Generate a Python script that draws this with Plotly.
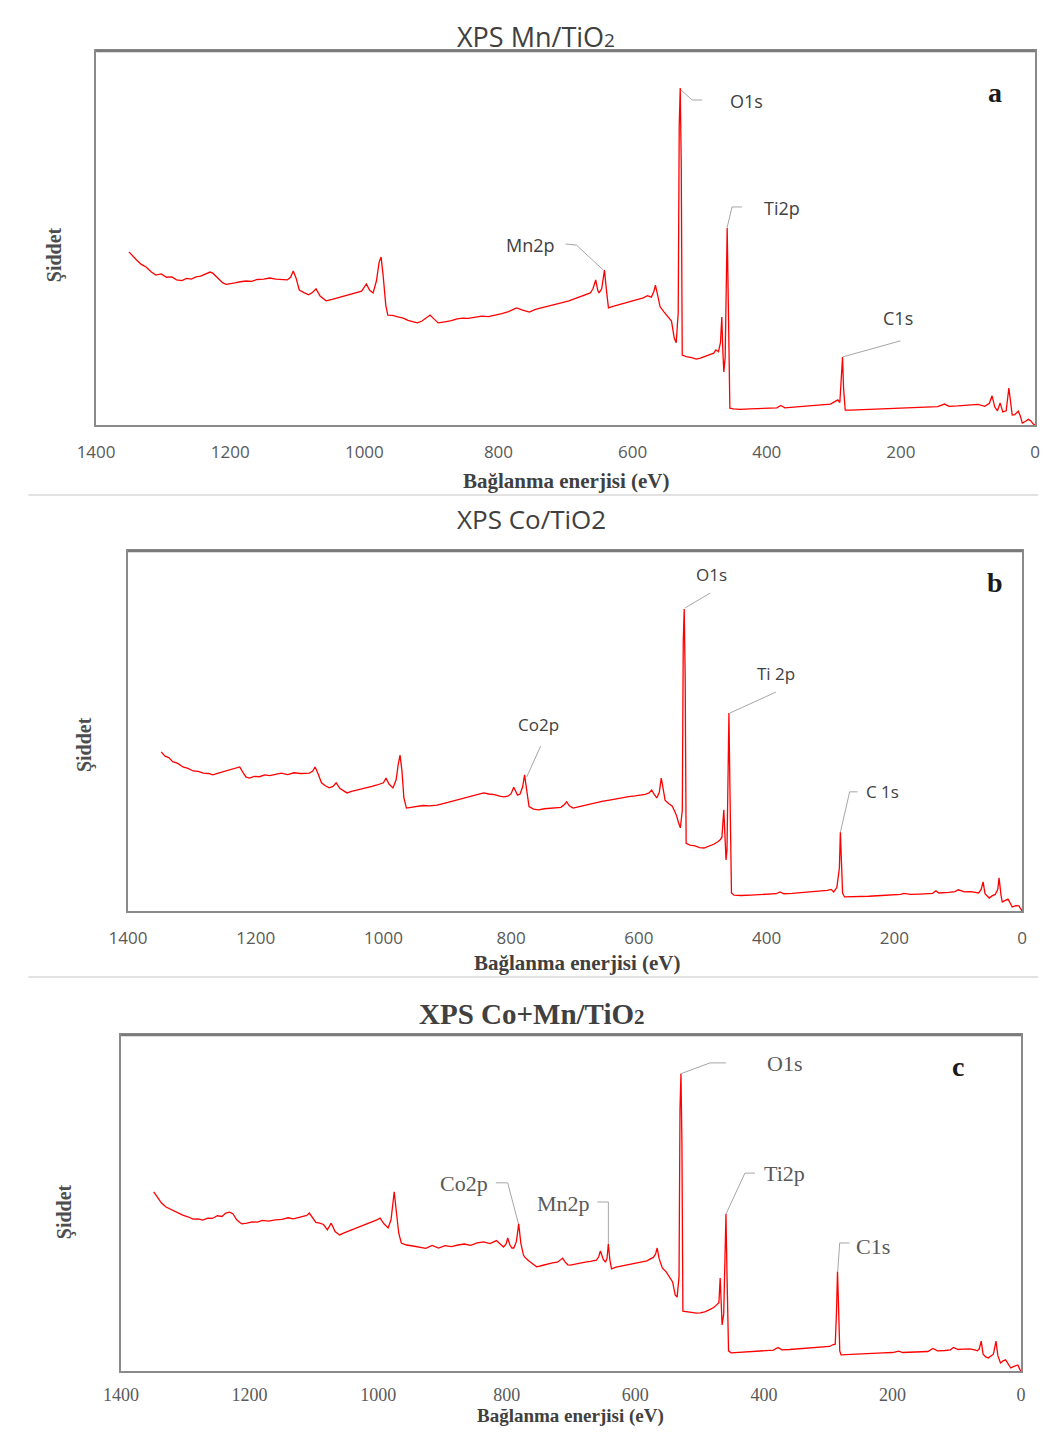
import plotly.graph_objects as go

# The page is opened in a 1051x1438 window with the default 8px body margin.
OFF = 8
W, H = 1035, 1422
# measured mapping from figure pixels to picture pixels (horizontal)
SX, BX = 0.98, 24.7

# ---------------- data: panel a (Mn/TiO2) ----------------
energy_a = [
    1351, 1345, 1340, 1333, 1325, 1318, 1311, 1303, 1295, 1287,
    1280, 1272, 1265, 1258, 1251, 1244, 1237, 1230, 1226, 1220,
    1215, 1211, 1206, 1201, 1193, 1185, 1176, 1168, 1160, 1150,
    1141, 1132, 1122, 1115, 1110, 1106, 1102, 1097, 1090, 1083,
    1077, 1072, 1066, 1057, 1048, 1040, 1030, 1020, 1012, 1004,
    997, 992, 987, 982, 978, 975, 972, 968, 965, 958,
    950, 942, 935, 928, 921, 914, 907, 902, 897, 890,
    880, 870, 862, 853, 845, 835, 825, 815, 803, 795,
    785, 778, 773, 765, 758, 754, 745, 735, 725, 715,
    705, 695, 685, 675, 667, 663, 659, 655, 652, 650,
    646, 642, 639, 636, 628, 620, 612, 604, 596, 590,
    584, 578, 572, 568, 566, 563, 559, 553, 547, 542,
    538, 535, 532, 530.5, 529, 527.5, 526, 520, 512, 505,
    499, 492, 485, 479, 476, 472, 469, 467, 465.5, 464,
    462, 460.5, 459, 457.5, 455, 450, 440, 425, 410, 395,
    385, 379, 373, 360, 345, 330, 315, 305, 298, 294,
    291, 288.5, 287, 285.5, 283, 275, 260, 240, 220, 200,
    180, 160, 145, 135, 128, 115, 100, 85, 75, 68,
    64, 60, 56, 52, 48, 43, 39, 36, 34, 30,
    25, 22, 19, 14, 10, 6, 3, 0]
intensity_a = [
    46.3, 45.0, 44.2, 43.0, 42.2, 41.0, 40.1, 40.4, 39.5, 39.6,
    38.8, 38.6, 39.2, 39.0, 39.6, 39.8, 40.3, 40.9, 40.6, 39.6,
    38.6, 38.0, 37.6, 37.7, 38.0, 38.3, 38.5, 38.4, 38.9, 39.0,
    39.3, 39.0, 39.0, 38.8, 39.5, 41.2, 39.4, 36.1, 35.4, 34.8,
    35.5, 36.4, 34.5, 33.2, 33.6, 34.0, 34.3, 34.9, 35.3, 35.8,
    37.7, 36.0, 35.3, 38.5, 43.5, 44.9, 40.0, 32.0, 29.4, 29.3,
    28.9, 28.6, 28.0, 27.6, 27.3, 27.8, 28.8, 29.4, 28.5, 27.3,
    27.6, 27.9, 28.4, 28.6, 28.5, 28.9, 29.1, 29.0, 29.4, 29.8,
    30.3, 31.0, 31.3, 30.8, 30.4, 30.2, 30.9, 31.3, 31.7, 32.2,
    32.7, 33.2, 33.8, 34.5, 35.0, 35.3, 36.5, 38.8, 36.0, 35.3,
    36.5, 41.4, 36.0, 31.3, 31.8, 32.2, 32.8, 33.0, 33.4, 33.9,
    34.0, 34.6, 34.2, 35.8, 37.4, 35.0, 31.6, 30.2, 29.0, 27.8,
    23.3, 22.0, 30.0, 80.0, 90.1, 70.0, 18.7, 18.3, 18.0, 17.6,
    17.9, 18.4, 18.8, 19.2, 20.1, 19.6, 22.0, 28.9, 20.0, 14.2,
    18.0, 45.0, 52.7, 35.0, 4.5, 4.3, 4.2, 4.3, 4.4, 4.5,
    4.6, 5.2, 4.6, 4.8, 5.0, 5.2, 5.4, 5.6, 6.3, 6.7,
    6.0, 14.0, 18.2, 10.0, 4.0, 4.0, 4.1, 4.2, 4.3, 4.4,
    4.6, 4.8, 4.9, 5.6, 5.0, 5.1, 5.3, 5.5, 5.0, 5.8,
    7.8, 4.8, 3.8, 5.9, 3.5, 3.8, 9.9, 4.5, 2.7, 2.8,
    3.7, 2.5, 0.5, 1.0, 1.5, 1.1, 0.3, 0.0]

# ---------------- data: panel b (Co/TiO2) ----------------
energy_b = [
    1348, 1342, 1336, 1330, 1322, 1314, 1306, 1298, 1290, 1282,
    1274, 1267, 1260, 1252, 1244, 1236, 1229, 1225, 1220, 1215,
    1210, 1202, 1194, 1186, 1178, 1170, 1160, 1150, 1140, 1130,
    1122, 1116, 1111, 1107, 1102, 1097, 1091, 1085, 1079, 1074,
    1068, 1062, 1057, 1050, 1042, 1034, 1026, 1018, 1010, 1004,
    1000, 996, 991, 985, 980, 977, 974, 971, 968, 964,
    956, 947, 938, 928, 916, 905, 894, 883, 872, 862,
    852, 843, 835, 826, 818, 812, 805, 800, 796, 792,
    790, 786, 782, 779, 776, 772, 765, 757, 748, 738,
    729, 722, 717, 713, 709, 703, 695, 686, 676, 666,
    656, 646, 636, 626, 616, 606, 596, 590, 584, 580,
    576, 572, 568, 565, 562, 559, 553, 548, 545, 541,
    538, 535, 532, 530.5, 529, 527.5, 526, 520, 512, 505,
    498, 490, 482, 476, 473, 470, 467, 465.5, 463.5, 462,
    460.5, 459, 457.5, 455, 451, 440, 425, 410, 395, 385,
    379, 373, 360, 345, 330, 315, 305, 299, 295, 290,
    286, 284.5, 283, 281, 278, 270, 255, 240, 220, 200,
    190, 185, 175, 160, 140, 135, 130, 115, 105, 100,
    90, 80, 72, 68, 64, 61, 58, 54, 51.5, 47,
    42, 38, 36, 33, 31, 27, 22, 18, 15.6, 10,
    5, 2, 0]
intensity_b = [
    44.2, 43.0, 42.6, 41.5, 41.0, 40.0, 39.6, 38.9, 38.8, 38.3,
    38.2, 37.8, 38.2, 38.6, 38.9, 39.3, 39.8, 40.0, 38.5, 37.2,
    36.9, 37.4, 37.3, 37.8, 37.6, 38.0, 38.3, 37.9, 38.4, 38.2,
    38.3, 38.3, 38.8, 40.0, 38.0, 35.6, 34.8, 34.2, 34.6, 35.6,
    34.0, 33.3, 32.8, 33.2, 33.5, 33.9, 34.2, 34.6, 35.0, 35.3,
    35.6, 36.9, 35.2, 34.2, 36.5, 40.5, 43.3, 39.0, 31.5, 28.6,
    28.8, 29.0, 29.3, 29.2, 29.4, 29.9, 30.4, 30.9, 31.4, 31.8,
    32.4, 32.8, 32.5, 32.3, 31.9, 31.7, 31.9, 32.6, 34.4, 33.0,
    32.2, 32.5, 34.5, 37.8, 34.0, 29.0, 28.3, 28.1, 28.4, 28.5,
    28.6, 28.8, 29.5, 30.3, 29.2, 28.6, 28.9, 29.3, 29.6, 30.0,
    30.5, 30.8, 31.2, 31.5, 31.8, 32.0, 32.2, 32.4, 32.8, 33.6,
    32.4, 31.4, 33.0, 36.9, 34.0, 30.8, 29.8, 29.2, 28.1, 26.5,
    24.6, 23.1, 28.0, 75.0, 83.9, 65.0, 18.8, 18.3, 18.1, 17.6,
    17.5, 18.0, 18.6, 19.3, 19.7, 20.5, 28.1, 22.0, 14.2, 17.0,
    45.0, 55.0, 35.0, 5.0, 4.4, 4.3, 4.4, 4.5, 4.6, 4.8,
    5.3, 4.8, 4.9, 5.1, 5.3, 5.5, 5.7, 6.0, 5.3, 6.5,
    12.0, 21.9, 14.0, 5.0, 3.9, 3.9, 4.0, 4.1, 4.3, 4.4,
    4.6, 4.9, 4.6, 4.7, 4.9, 5.6, 5.0, 5.2, 5.4, 5.9,
    5.3, 5.4, 5.1, 5.0, 6.0, 8.1, 4.8, 4.0, 3.6, 4.2,
    4.6, 6.0, 9.2, 4.5, 2.5, 2.9, 3.3, 2.0, 1.1, 1.5,
    1.4, 0.6, 0.0]

# ---------------- data: panel c (Co+Mn/TiO2) ----------------
energy_c = [
    1349, 1343, 1337, 1330, 1322, 1313, 1304, 1296, 1288, 1280,
    1273, 1265, 1258, 1250, 1243, 1237, 1231, 1226, 1220, 1215,
    1212, 1204, 1196, 1188, 1180, 1170, 1160, 1150, 1140, 1132,
    1127, 1118, 1111, 1107, 1102, 1097, 1091, 1085, 1079, 1073,
    1067, 1060, 1052, 1044, 1036, 1028, 1020, 1012, 1004, 997,
    991, 984.5, 980, 977, 975, 972, 968, 964, 956, 946,
    936, 926, 916, 906, 896, 886, 876, 866, 856, 846,
    836, 826, 816, 808, 805, 801, 798.5, 795, 792, 789,
    785, 781.4, 778, 774, 772, 766, 760, 753.5, 745, 737,
    729, 721, 716, 713, 709, 705, 701, 694, 686, 678,
    670, 662, 660.5, 657, 654.3, 650, 646.5, 644, 642, 639.5,
    637, 630, 622, 614, 606, 598, 590, 582, 578, 572,
    568.5, 566, 563, 558, 552, 547, 542, 538, 535, 532,
    530.5, 529, 527.5, 526, 520, 512, 505, 499, 492, 485,
    478, 474, 470, 468, 466.5, 465, 462.5, 460.5, 459, 457.5,
    455, 451, 440, 425, 410, 395, 385, 378, 372, 360,
    345, 330, 315, 305, 298, 293, 289, 287, 285.5, 284,
    282, 280, 272, 260, 245, 230, 215, 200, 190, 184,
    175, 160, 145, 137, 130, 118, 110, 105, 98, 90,
    80, 72, 68, 65, 62, 59, 55, 51, 47, 43,
    39, 36, 32, 28, 24, 20, 16, 12, 8, 5,
    2, 0]
intensity_c = [
    53.3, 51.5, 50.0, 48.8, 48.0, 47.2, 46.4, 45.9, 45.2, 45.3,
    44.9, 45.5, 45.4, 46.2, 46.0, 47.0, 47.3, 46.8, 45.0, 44.2,
    43.8, 44.0, 44.4, 44.3, 44.8, 44.6, 45.0, 45.1, 45.6, 45.3,
    45.5, 45.9, 46.3, 47.0, 45.5, 44.2, 44.0, 43.6, 42.0, 44.0,
    41.5, 40.5, 41.2, 41.8, 42.3, 42.9, 43.4, 44.2, 44.8, 45.5,
    43.8, 42.6, 45.0, 50.0, 53.3, 48.0, 41.0, 38.1, 37.5, 37.2,
    36.8, 36.5, 37.4, 36.6, 37.3, 37.0, 37.5, 37.8, 37.4, 38.1,
    38.4, 37.9, 38.8, 37.6, 36.9, 37.8, 39.6, 37.5, 36.6, 36.6,
    38.5, 43.8, 38.0, 34.5, 33.9, 32.8, 31.9, 31.0, 31.4, 31.9,
    32.2, 32.4, 33.0, 33.6, 32.4, 31.6, 31.5, 31.8, 32.1, 32.4,
    32.6, 33.0, 33.0, 34.0, 35.7, 33.3, 32.4, 33.5, 37.8, 33.0,
    30.4, 30.9, 31.2, 31.6, 31.9, 32.2, 32.5, 32.8, 33.2, 33.8,
    34.8, 36.6, 33.5, 30.7, 29.5, 28.0, 26.5, 22.6, 22.0, 28.0,
    78.0, 88.4, 68.0, 17.8, 17.6, 17.4, 17.2, 17.3, 17.6, 18.2,
    18.9, 19.6, 20.3, 27.7, 20.0, 13.7, 17.0, 40.0, 46.7, 30.0,
    6.0, 5.4, 5.5, 5.7, 5.8, 6.0, 6.2, 7.0, 6.3, 6.4,
    6.6, 6.8, 7.0, 7.1, 7.3, 7.8, 8.0, 18.0, 29.5, 20.0,
    6.0, 4.8, 4.9, 5.0, 5.1, 5.2, 5.4, 5.5, 5.9, 5.5,
    5.6, 5.7, 5.8, 6.7, 6.0, 6.1, 6.3, 7.0, 6.4, 6.5,
    6.6, 6.3, 6.0, 6.6, 8.9, 5.0, 4.2, 3.9, 4.6, 5.0,
    8.9, 4.5, 2.4, 3.0, 3.3, 2.0, 0.9, 1.3, 1.7, 1.8,
    0.5, 0.0]

assert len(energy_a) == len(intensity_a), (len(energy_a), len(intensity_a))
assert len(energy_b) == len(intensity_b), (len(energy_b), len(intensity_b))
assert len(energy_c) == len(intensity_c), (len(energy_c), len(intensity_c))

tick_values = [0, 200, 400, 600, 800, 1000, 1200, 1400]
tick_labels = ["0", "200", "400", "600", "800", "1000", "1200", "1400"]

titles = ['XPS Mn/TiO<span style="font-size:19px">2</span>',
          "XPS Co/TiO2",
          '<b>XPS Co+Mn/TiO<span style="font-size:21px">2</span></b>']
panel_letters = ["a", "b", "c"]
x_title = "Bağlanma enerjisi (eV)"
y_title = "Şiddet"

# peak labels: (text, label energy, label intensity, leader polyline [(E, I), ...])
peaks_a = [
    ("O1s", 429.5, 86.6, [(529.1, 89.8), (511.3, 86.9), (496.4, 86.9)]),
    ("Ti2p", 377.5, 58.0, [(459.2, 52.7), (451.8, 58.3), (436.9, 58.3)]),
    ("Mn2p", 752.0, 48.1, [(700.0, 48.4), (683.7, 48.1), (643.5, 41.4)]),
    ("C1s", 203.6, 28.6, [(286.8, 18.2), (200.6, 22.5)]),
]
peaks_b = [
    ("O1s", 487.0, 93.6, [(527.5, 84.2), (488.5, 88.3)]),
    ("Ti 2p", 385.5, 66.1, [(457.3, 55.0), (385.5, 60.8)]),
    ("Co2p", 757.0, 51.9, [(775.7, 37.2), (753.8, 45.8)]),
    ("C 1s", 218.5, 33.1, [(284.4, 21.9), (270.0, 33.1), (257.5, 33.1)]),
]
peaks_c = [
    ("O1s", 367.4, 91.4, [(530.2, 88.4), (483.7, 91.7), (459.0, 91.7)]),
    ("Ti2p", 367.4, 58.9, [(459.0, 46.7), (429.5, 58.9), (414.0, 58.9)]),
    ("Co2p", 866.7, 55.7, [(817.1, 56.0), (798.5, 56.0), (781.4, 43.5)]),
    ("Mn2p", 711.6, 50.0, [(658.9, 50.3), (641.9, 50.3), (641.9, 37.5)]),
    ("C1s", 231.0, 37.2, [(285.2, 29.5), (282.1, 38.1), (266.6, 38.1)]),
]

# ---------------- layout geometry (picture pixels -> paper fractions) ----------------
def fx(p):
    return ((p - BX) / SX) / W

def fy(p):
    return 1 - (p - OFF) / H

frames = [  # left, right, top, bottom in picture pixels
    (94, 1036, 51, 425),
    (126, 1023, 551, 911),
    (119, 1022, 1035, 1371),
]
sans = "Open Sans"
serif = "Liberation Serif"
panel_style = [
    dict(title_font=dict(family=sans, size=27, color="#404040"), title_pos=(535, 36),
         tick_font=dict(family=sans, size=17, color="#595959"), standoff=11,
         label_font=dict(family=sans, size=18, color="#404040"),
         xtitle_pos=(565, 481), xtitle_size=21, ytitle_pos=(52, 255), letter_pos=(996, 93)),
    dict(title_font=dict(family=sans, size=26, color="#404040"), title_pos=(531, 519),
         tick_font=dict(family=sans, size=17, color="#595959"), standoff=11,
         label_font=dict(family=sans, size=17, color="#404040"),
         xtitle_pos=(576, 963), xtitle_size=21, ytitle_pos=(82, 745), letter_pos=(996, 582)),
    dict(title_font=dict(family=serif, size=29, color="#404040"), title_pos=(531, 1014),
         tick_font=dict(family=serif, size=18, color="#595959"), standoff=7,
         label_font=dict(family=serif, size=22, color="#595959"),
         xtitle_pos=(570, 1416), xtitle_size=19, ytitle_pos=(62, 1212), letter_pos=(959, 1066)),
]

energies = [energy_a, energy_b, energy_c]
intensities = [intensity_a, intensity_b, intensity_c]
peak_sets = [peaks_a, peaks_b, peaks_c]

fig = go.Figure()
annotations = []
shapes = []
layout_axes = {}
frame_color = "#8a8a8a"

for i in range(3):
    sfx = "" if i == 0 else str(i + 1)
    xa, ya = "x" + sfx, "y" + sfx
    left, right, top, bottom = frames[i]
    st = panel_style[i]

    for text, lx, ly, pts in peak_sets[i]:
        fig.add_trace(go.Scatter(
            x=[p[0] for p in pts], y=[p[1] for p in pts], mode="lines",
            line=dict(color="#a6a6a6", width=1), xaxis=xa, yaxis=ya,
            hoverinfo="skip", showlegend=False))
        annotations.append(dict(
            text=text, x=lx, y=ly, xref=xa, yref=ya, showarrow=False,
            xanchor="center", yanchor="middle", font=st["label_font"]))

    fig.add_trace(go.Scatter(
        x=energies[i], y=intensities[i], mode="lines",
        line=dict(color="#ff0000", width=1.3), xaxis=xa, yaxis=ya,
        showlegend=False, name="spectrum " + panel_letters[i]))

    layout_axes["xaxis" + sfx] = dict(
        domain=[fx(left), fx(right)], anchor=ya, range=[1400, 0],
        tickvals=tick_values, ticktext=tick_labels, tickfont=st["tick_font"],
        showgrid=False, zeroline=False, showline=True, mirror=True,
        linecolor=frame_color, linewidth=1.5, ticks="", ticklabelstandoff=st["standoff"])
    layout_axes["yaxis" + sfx] = dict(
        domain=[fy(bottom), fy(top)], anchor=xa, range=[0, 100],
        showticklabels=False, showgrid=False, zeroline=False, showline=True,
        mirror=True, linecolor=frame_color, linewidth=1.5, ticks="")

    shapes.append(dict(type="line", xref=xa + " domain", yref=ya + " domain",
                       x0=0, x1=1, y0=1, y1=1,
                       line=dict(color="#7a7a7a", width=2.5)))

    tx, ty = st["title_pos"]
    annotations.append(dict(text=titles[i], x=fx(tx), y=fy(ty), xref="paper", yref="paper",
                            showarrow=False, xanchor="center", yanchor="middle",
                            font=st["title_font"]))
    xx, xy = st["xtitle_pos"]
    annotations.append(dict(text="<b>" + x_title + "</b>", x=fx(xx), y=fy(xy),
                            xref="paper", yref="paper", showarrow=False,
                            xanchor="center", yanchor="middle",
                            font=dict(family=serif, size=st["xtitle_size"], color="#404040")))
    yx, yy = st["ytitle_pos"]
    annotations.append(dict(text="<b>" + y_title + "</b>", x=fx(yx), y=fy(yy),
                            xref="paper", yref="paper", showarrow=False, textangle=-90,
                            xanchor="center", yanchor="middle",
                            font=dict(family=serif, size=20, color="#4d4d4d")))
    lx, ly = st["letter_pos"]
    annotations.append(dict(text="<b>" + panel_letters[i] + "</b>", x=fx(lx), y=fy(ly),
                            xref="paper", yref="paper", showarrow=False,
                            xanchor="center", yanchor="middle",
                            font=dict(family=serif, size=28, color="#1a1a1a")))

sep = dict(color="#d9d9d9", width=1.5)
for (x0, y0, x1, y1) in [(26, 495, 1051, 495), (26, 977, 1051, 977)]:
    shapes.append(dict(type="line", xref="paper", yref="paper",
                       x0=max(fx(x0), 0), x1=min(fx(x1), 1), y0=fy(y0), y1=fy(y1), line=sep))

fig.update_layout(
    width=W, height=H, margin=dict(l=0, r=0, t=0, b=0),
    paper_bgcolor="white", plot_bgcolor="white",
    annotations=annotations, shapes=shapes, showlegend=False,
    **layout_axes)

fig.write_html("out.html")
